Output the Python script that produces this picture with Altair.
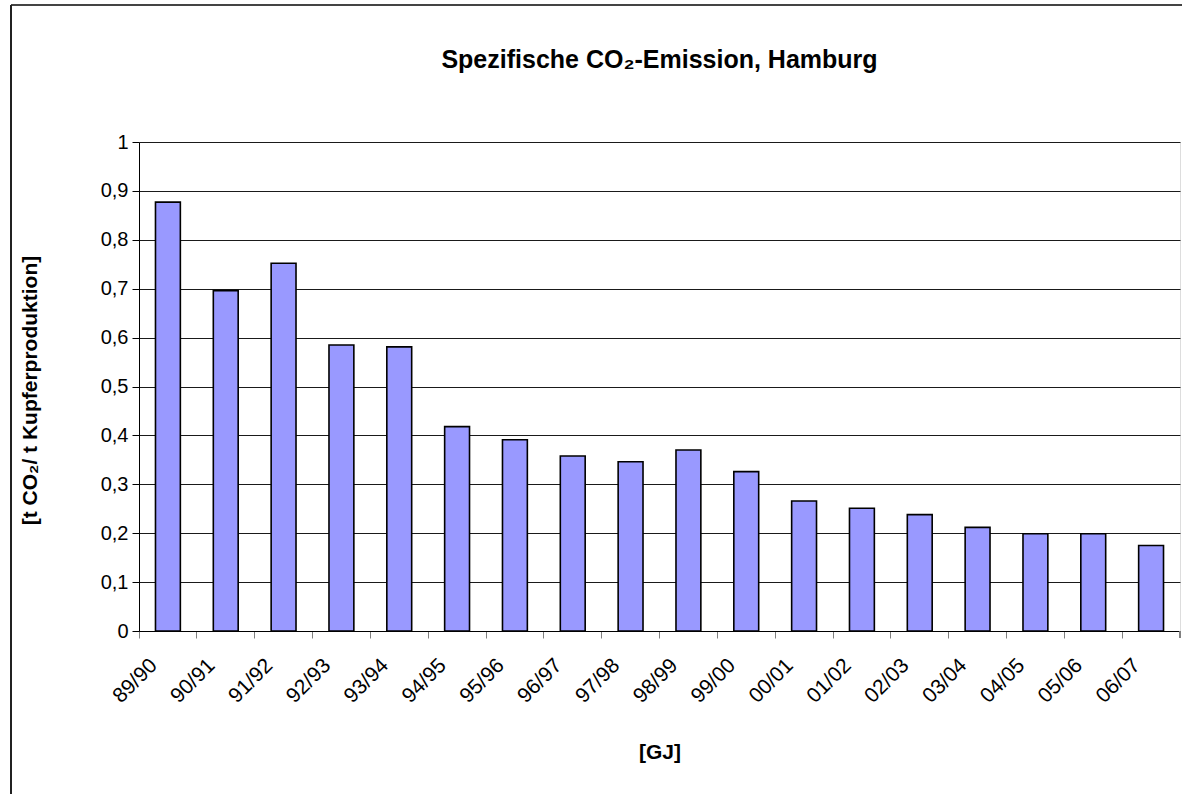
import altair as alt
import pandas as pd

periods = ["89/90", "90/91", "91/92", "92/93", "93/94", "94/95", "95/96", "96/97",
           "97/98", "98/99", "99/00", "00/01", "01/02", "02/03", "03/04", "04/05",
           "05/06", "06/07"]
emission = [0.877, 0.696, 0.752, 0.585, 0.581, 0.418, 0.391, 0.358, 0.346, 0.370,
            0.326, 0.266, 0.251, 0.238, 0.212, 0.199, 0.199, 0.175]
y_ticks = [0, 0.1, 0.2, 0.3, 0.4, 0.5, 0.6, 0.7, 0.8, 0.9, 1.0]

df = pd.DataFrame({"period": periods, "value": emission})

FONT = "Liberation Sans"
W, H = 1041, 489

x_enc = alt.X(
    "period:N", sort=periods,
    scale=alt.Scale(paddingInner=0, paddingOuter=0),
    axis=alt.Axis(
        title="[GJ]", titleFontSize=21, titleFontWeight="bold", titleFont=FONT,
        titleX=W / 2, titleY=121, titleBaseline="middle", titleAlign="center",
        bandPosition=0, labelOffset=-14, labelAngle=-45, labelAlign="right",
        labelBaseline="middle", labelFontSize=21, labelFont=FONT, labelColor="black",
        labelPadding=24, tickSize=7, tickColor="#808080", tickWidth=1,
        domainColor="black", domainWidth=1, grid=False,
    ),
)
y_enc = alt.Y(
    "value:Q",
    scale=alt.Scale(domain=[0, 1], nice=False),
    axis=alt.Axis(
        title="[t CO₂/ t Kupferproduktion]", titleFontSize=21, titleFontWeight="bold",
        titleFont=FONT, titleX=-109, titleY=248, titleAngle=-90,
        titleAlign="center", titleBaseline="middle",
        values=y_ticks, labelExpr="replace(format(datum.value, '.1~f'), '.', ',')",
        labelFontSize=20, labelFont=FONT, labelColor="black", labelPadding=4,
        tickSize=7, tickColor="black", domainColor="black",
        grid=True, gridColor="#1a1a1a", gridWidth=1,
    ),
)

bars = alt.Chart(df).mark_bar(
    fill="#9999FF", stroke="black", strokeWidth=1.6,
    width=alt.RelativeBandSize(0.43),
).encode(x=x_enc, y=y_enc)

last_tick = alt.Chart(df).mark_rule(color="#808080", strokeWidth=1).encode(
    x=alt.value(W), y=alt.value(H), y2=alt.value(H + 7)
)
border_top = alt.Chart(df).mark_rule(color="#444444", strokeWidth=2).encode(
    x=alt.value(-128), x2=alt.value(1043), y=alt.value(-137)
)
border_left = alt.Chart(df).mark_rule(color="#222222", strokeWidth=1.5).encode(
    x=alt.value(-128), y=alt.value(-137), y2=alt.value(H + 170)
)

chart = alt.layer(bars, last_tick, border_top, border_left).properties(
    width=W, height=H,
    autosize=alt.AutoSizeParams(type="none"),
    padding={"left": 139, "top": 142, "right": 2, "bottom": 163},
    title=alt.TitleParams(
        "Spezifische CO₂-Emission, Hamburg", fontSize=25, fontWeight="bold",
        font=FONT, anchor="middle", frame="group", offset=0, dy=89,
        baseline="alphabetic", color="black",
    ),
).configure_view(
    fill="#C0C0C0", stroke="#808080", strokeWidth=2
).configure(background="white")

chart.save("out.html", embed_options={"renderer": "svg", "actions": False})
